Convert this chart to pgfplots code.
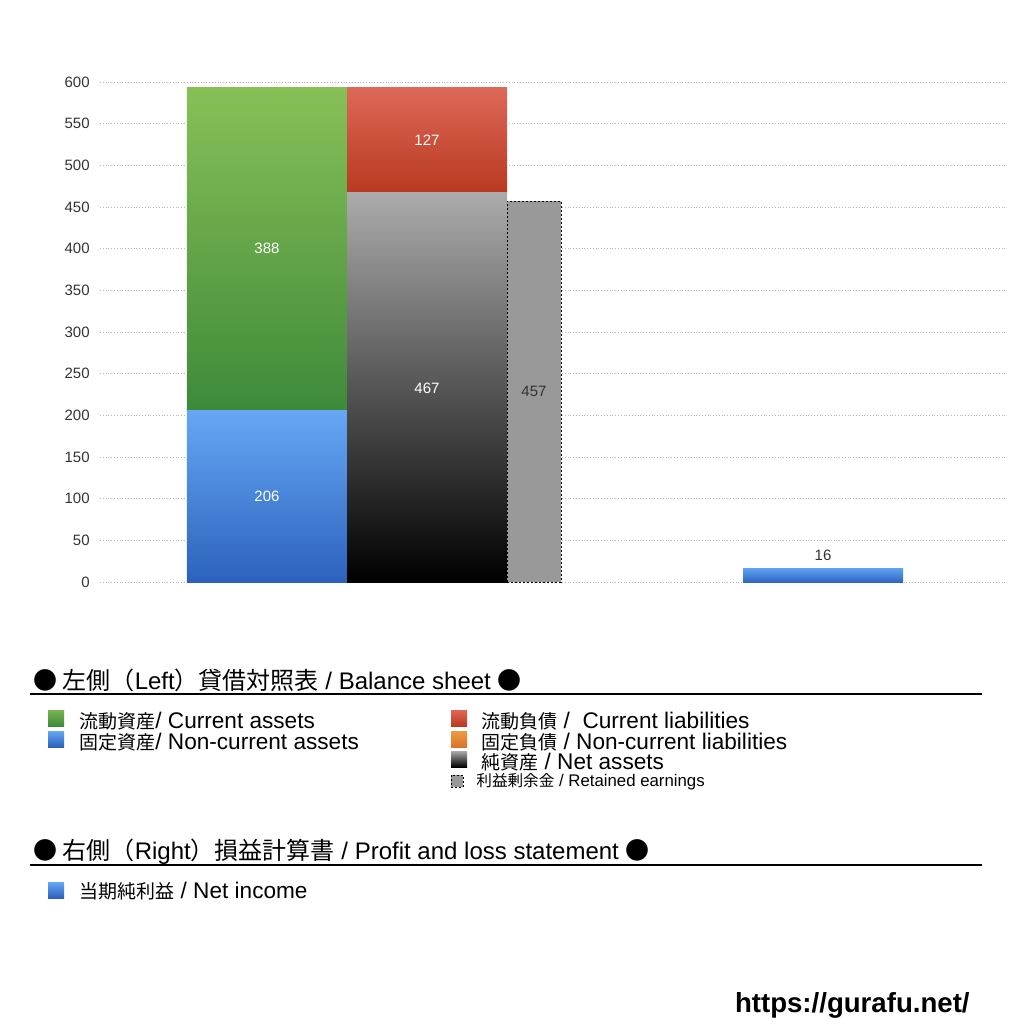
\documentclass[border=0pt]{standalone}
\usepackage{fontspec}
\usepackage{pgfplots}
\pgfplotsset{compat=1.18}
\setmainfont{Liberation Sans}
\newfontfamily\jp{Noto Sans CJK JP}

\definecolor{gTop}{HTML}{88C057}
\definecolor{gBot}{HTML}{3E8A3A}
\definecolor{bTop}{HTML}{66A7F4}
\definecolor{bBot}{HTML}{2C62BD}
\definecolor{kTop}{HTML}{ABABAB}
\definecolor{rTop}{HTML}{DE6858}
\definecolor{rBot}{HTML}{B83A20}
\definecolor{oTop}{HTML}{EE9A45}
\definecolor{oBot}{HTML}{D8742A}
\definecolor{retg}{HTML}{999999}
\definecolor{niTop}{HTML}{5DA0F0}
\definecolor{niBot}{HTML}{2F67C2}
\definecolor{txt}{HTML}{333333}

% CJK / Latin size helpers
\newcommand{\J}[1]{{\jp\fontsize{9.5pt}{11pt}\selectfont #1}}
\newcommand{\JH}[1]{{\jp\fontsize{12pt}{14pt}\selectfont #1}}
\newcommand{\JS}[1]{{\jp\fontsize{7.8pt}{9pt}\selectfont #1}}
\newcommand{\leg}{\fontsize{11.3pt}{13pt}\selectfont}
\newcommand{\hdr}{\fontsize{12pt}{14pt}\selectfont}

\tikzset{lbl/.style={font=\fontsize{7.5pt}{9pt}\selectfont, text=white}}
\pgfplotsset{
  base/.style={
    scale only axis, width=452.5pt, height=250pt,
    at={(50pt,-291pt)}, anchor=south west,
    xmin=100, xmax=1005, ymin=0, ymax=600,
    clip=false,
  },
}

\begin{document}
\begin{tikzpicture}
\useasboundingbox (0,0) rectangle (512pt,-512pt);

% axis with grid + left stack (assets)
\begin{axis}[base, ybar stacked, bar width=160,
  axis line style={draw=none},
  xtick=\empty,
  ytick={0,50,...,600},
  ytick style={draw=none},
  ymajorgrids,
  grid style={densely dotted, line width=0.5pt, black!28},
  /pgf/number format/assume math mode=true,
  yticklabel style={font=\fontsize{7.5pt}{9pt}\selectfont, text=txt, anchor=east, inner sep=0pt, xshift=-5pt},
]
\addplot[draw=none, top color=bTop, bottom color=bBot] coordinates {(267,206)};
\addplot[draw=none, top color=gTop, bottom color=gBot] coordinates {(267,388)};
\end{axis}

% liabilities + net assets stack
\begin{axis}[base, hide axis, ybar stacked, bar width=160]
\addplot[draw=none, top color=kTop, bottom color=black] coordinates {(427,467)};
\addplot[draw=none, top color=rTop, bottom color=rBot] coordinates {(427,127)};
\end{axis}

% retained earnings + net income, and all value labels
\begin{axis}[base, hide axis, ybar]
\addplot[bar shift=0pt, bar width=54, fill=retg, draw=black, line width=0.5pt,
  dash pattern=on 1pt off 1pt] coordinates {(534,457)};
\addplot[bar shift=0pt, bar width=160, draw=none, top color=niTop, bottom color=niBot]
  coordinates {(823,16)};
\node[lbl] at (axis cs:267,103) {206};
\node[lbl] at (axis cs:267,400) {388};
\node[lbl] at (axis cs:427,233) {467};
\node[lbl] at (axis cs:427,530) {127};
\node[lbl, text=txt] at (axis cs:534,229) {457};
\node[lbl, text=txt, anchor=south] at (axis cs:823,17) {16};
\end{axis}

% legend area, coordinates in image pixels
\begin{scope}[x=0.5pt, y=-0.5pt]
\node[anchor=base west, inner sep=0pt] at (33,689)
  {\hdr\JH{● 左側（}Left\JH{）貸借対照表} / Balance sheet \JH{●}};
\draw[line width=0.6pt] (30,694) -- (982,694);

\shade[top color=gTop!80!gBot, bottom color=gBot] (48,710) rectangle (64,726);
\shade[top color=bTop, bottom color=bBot] (48,731) rectangle (64,747);
\node[anchor=base west, inner sep=0pt] at (79,728) {\leg\J{流動資産}/ Current assets};
\node[anchor=base west, inner sep=0pt] at (79,749) {\leg\J{固定資産}/ Non-current assets};

\shade[top color=rTop, bottom color=rBot] (451,710) rectangle (467,726);
\shade[top color=oTop, bottom color=oBot] (451,731) rectangle (467,747);
\shade[top color=kTop, bottom color=black] (451,751) rectangle (467,767);
\fill[retg] (451,775) rectangle (463,787);
\draw[line width=0.5pt, dash pattern=on 1pt off 1pt] (451,775) rectangle (463,787);
\node[anchor=base west, inner sep=0pt] at (481,728) {\leg\J{流動負債} /\ \ Current liabilities};
\node[anchor=base west, inner sep=0pt] at (481,749) {\leg\J{固定負債} / Non-current liabilities};
\node[anchor=base west, inner sep=0pt] at (481,769) {\leg\J{純資産} / Net assets};
\node[anchor=base west, inner sep=0pt] at (476,786)
  {\fontsize{8.4pt}{10pt}\selectfont\JS{利益剰余金} / Retained earnings};

\node[anchor=base west, inner sep=0pt] at (33,859)
  {\hdr\JH{● 右側（}Right\JH{）損益計算書} / Profit and loss statement \JH{●}};
\draw[line width=0.6pt] (30,865) -- (982,865);

\shade[top color=bTop, bottom color=bBot] (48,882) rectangle (64,898);
\node[anchor=base west, inner sep=0pt] at (79,898) {\leg\J{当期純利益} / Net income};

\node[anchor=base east, inner sep=0pt] at (970,1012)
  {\fontsize{13.8pt}{16pt}\selectfont\bfseries https://gurafu.net/};
\end{scope}
\end{tikzpicture}
\end{document}
